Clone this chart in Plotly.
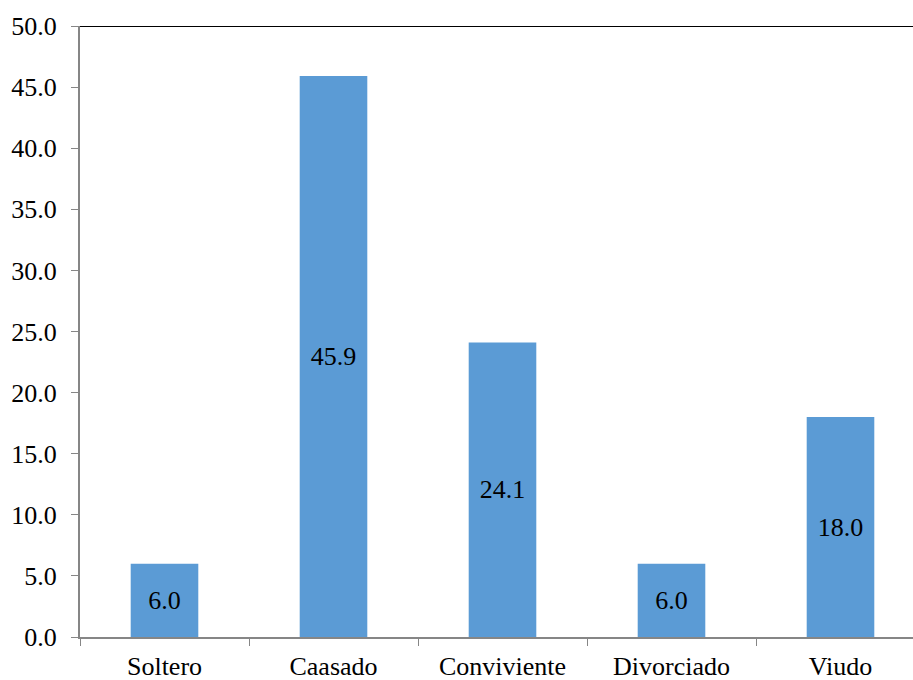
import plotly.graph_objects as go

categories = ["Soltero", "Caasado", "Conviviente", "Divorciado", "Viudo"]
values = [6.0, 45.9, 24.1, 6.0, 18.0]
y_ticks = [0, 5, 10, 15, 20, 25, 30, 35, 40, 45, 50]

FONT = "Liberation Serif"

fig = go.Figure(go.Bar(
    x=categories,
    y=values,
    width=0.40,
    marker=dict(color="#5B9BD5", line=dict(width=0)),
    text=[f"{v:.1f}" for v in values],
    textposition="inside",
    insidetextanchor="middle",
    textangle=0,
    textfont=dict(family=FONT, size=26, color="black"),
    cliponaxis=False,
))

fig.update_layout(
    width=913, height=680,
    margin=dict(l=80, r=0, t=26, b=43),
    paper_bgcolor="white", plot_bgcolor="white",
    showlegend=False,
    font=dict(family=FONT, size=26, color="black"),
)

fig.update_xaxes(
    range=[-0.5, 4.429],
    showline=True, linecolor="#868686", linewidth=2,
    ticks="outside", tickson="boundaries", ticklen=7, tickcolor="#868686", tickwidth=1,
    showgrid=False, zeroline=False,
    tickfont=dict(family=FONT, size=26, color="black"),
    ticklabelstandoff=5,
)

fig.update_yaxes(
    range=[0, 50],
    tickvals=y_ticks,
    ticktext=[f"{v:.1f}" for v in y_ticks],
    showline=True, linecolor="#868686", linewidth=2,
    ticks="outside", ticklen=7, tickcolor="#868686", tickwidth=1,
    showgrid=False, zeroline=False,
    tickfont=dict(family=FONT, size=26, color="black"),
    ticklabelstandoff=9,
)

fig.add_shape(type="line", xref="paper", yref="y", x0=0, x1=1, y0=50, y1=50,
              line=dict(color="black", width=2))

fig.write_html("out.html")
